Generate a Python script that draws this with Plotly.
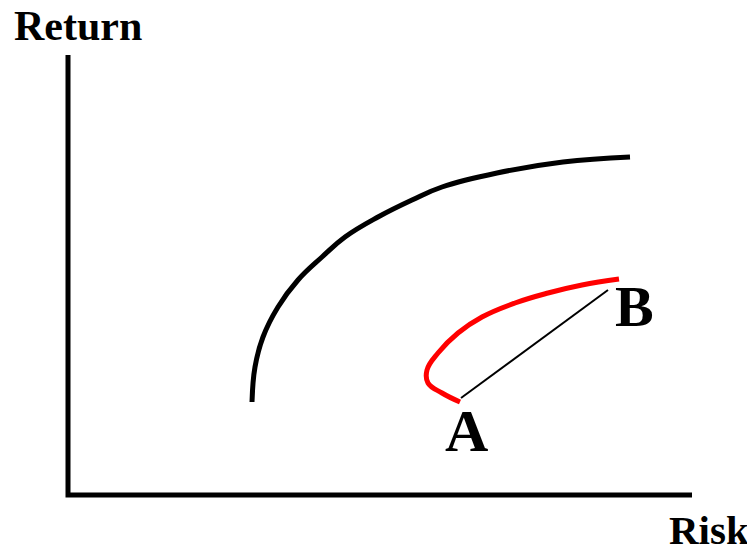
import plotly.graph_objects as go

H = 552
# Axes (risk, return)
axis_risk = [68, 68, 692]
axis_return = [H - 55, H - 495, H - 495]

# Efficient frontier (black curve)
front_risk = [252, 255, 263, 278, 298, 322, 345, 378, 412, 442, 497, 563, 630]
front_ret_px = [402, 367, 337, 307, 280, 257, 237, 217, 200, 187, 173, 162, 157]
front_return = [H - v for v in front_ret_px]

# Two-asset combination curve (red)
red_risk = [460, 442, 428, 427, 438, 458, 482, 515, 548, 582, 619]
red_ret_px = [402, 393, 383, 370, 353, 333, 317, 303, 293, 285, 279]
red_return = [H - v for v in red_ret_px]

# Straight line A-B
ab_risk = [461, 608]
ab_return = [H - 398, H - 290]

labels = ["Return", "Risk", "A", "B"]

fig = go.Figure()
fig.add_trace(go.Scatter(x=axis_risk, y=axis_return, mode="lines",
                         line=dict(color="black", width=5), hoverinfo="skip"))
fig.add_trace(go.Scatter(x=front_risk, y=front_return, mode="lines",
                         line=dict(color="black", width=5, shape="spline", smoothing=1.2), hoverinfo="skip"))
fig.add_trace(go.Scatter(x=red_risk, y=red_return, mode="lines",
                         line=dict(color="#ff0000", width=5, shape="spline", smoothing=1.2), hoverinfo="skip"))
fig.add_trace(go.Scatter(x=ab_risk, y=ab_return, mode="lines",
                         line=dict(color="black", width=2), hoverinfo="skip"))

font_big = dict(family="Liberation Serif", color="black", weight="bold")
fig.add_annotation(x=12, y=H - 26, text=labels[0], showarrow=False, xanchor="left", yanchor="middle",
                   font=dict(size=42, **font_big))
fig.add_annotation(x=751, y=H - 530, text=labels[1], showarrow=False, xanchor="right", yanchor="middle",
                   font=dict(size=41, **font_big))
fig.add_annotation(x=466, y=H - 431, text=labels[2], showarrow=False, xanchor="center", yanchor="middle",
                   font=dict(size=60, **font_big))
fig.add_annotation(x=634, y=H - 306, text=labels[3], showarrow=False, xanchor="center", yanchor="middle",
                   font=dict(size=58, **font_big))

# page body has an 8px margin: size the figure to the remaining viewport
fig.update_layout(
    width=747, height=544,
    margin=dict(l=0, r=0, t=0, b=0),
    paper_bgcolor="white", plot_bgcolor="white",
    showlegend=False,
    xaxis=dict(range=[8, 755], visible=False, fixedrange=True),
    yaxis=dict(range=[0, 544], visible=False, fixedrange=True),
)
fig.write_html("out.html")
